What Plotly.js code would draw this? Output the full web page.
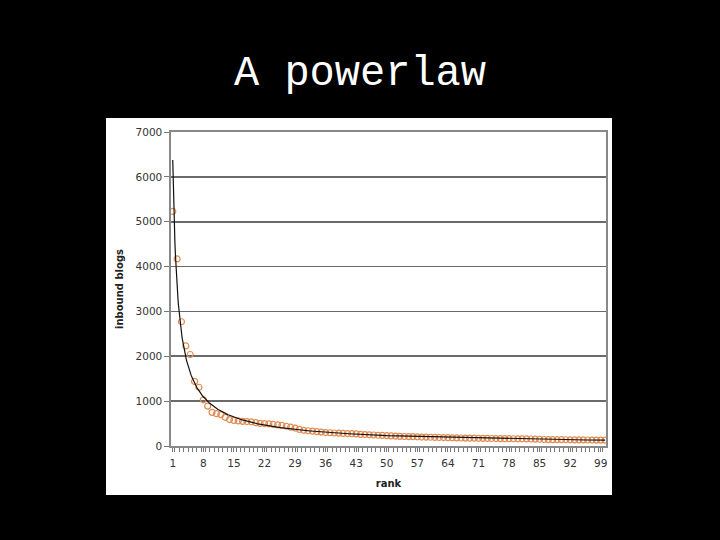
<!DOCTYPE html>
<html>
<head>
<meta charset="utf-8">
<script src="https://cdn.plot.ly/plotly-3.0.1.min.js"></script>
<style>html,body{margin:0;padding:0;background:#000;}#chart{width:720px;height:540px;}</style>
</head>
<body>
<div id="chart"></div>
<script>
// ranks 1..100
var ranks = [];
for (var i = 1; i <= 100; i++) ranks.push(i);

// inbound blogs per rank
var inbound = [
  5230, 4170, 2770, 2230, 2040, 1440, 1310, 1030, 890, 750,
  720, 700, 640, 590, 570, 560, 550, 545, 540, 520,
  505, 500, 495, 480, 470, 460, 440, 420, 400, 370,
  350, 340, 330, 320, 310, 300, 295, 290, 285, 280,
  278, 275, 270, 260, 255, 250, 245, 240, 235, 230,
  225, 220, 215, 212, 210, 208, 205, 200, 198, 195,
  192, 190, 188, 185, 183, 180, 178, 176, 175, 174,
  172, 170, 168, 167, 166, 165, 164, 163, 162, 161,
  160, 158, 156, 154, 150, 145, 143, 142, 141, 140,
  139, 138, 137, 136, 135, 134, 133, 132, 131, 130
];

var xTickVals = [1, 8, 15, 22, 29, 36, 43, 50, 57, 64, 71, 78, 85, 92, 99];
var xTickText = ["1", "8", "15", "22", "29", "36", "43", "50", "57", "64", "71", "78", "85", "92", "99"];
var yTickVals = [0, 1000, 2000, 3000, 4000, 5000, 6000, 7000];

// power-law trendline: least-squares fit in log-log space (as a spreadsheet does)
var n = ranks.length, sx = 0, sy = 0, sxx = 0, sxy = 0;
for (var k = 0; k < n; k++) {
  var lx = Math.log(ranks[k]), ly = Math.log(inbound[k]);
  sx += lx; sy += ly; sxx += lx * lx; sxy += lx * ly;
}
var slope = (n * sxy - sx * sy) / (n * sxx - sx * sx);
var icpt = (sy - slope * sx) / n;
var trendX = [], trendY = [];
for (var t = 1; t <= 100.0001; t += 0.1) {
  trendX.push(t);
  trendY.push(Math.exp(icpt) * Math.pow(t, slope));
}

var traces = [
  {
    x: ranks, y: inbound, type: 'scatter', mode: 'markers',
    marker: {symbol: 'circle-open', size: 6, color: 'rgb(226,138,80)', line: {width: 1.2, color: 'rgb(226,138,80)'}},
    hoverinfo: 'x+y', showlegend: false
  },
  {
    x: trendX, y: trendY, type: 'scatter', mode: 'lines',
    line: {color: '#111', width: 1.2},
    hoverinfo: 'skip', showlegend: false
  }
];

var layout = {
  width: 720, height: 540,
  paper_bgcolor: '#000', plot_bgcolor: '#fff',
  margin: {l: 171, r: 114, t: 132, b: 94},
  showlegend: false,
  title: {
    text: 'A powerlaw', x: 0.5, xref: 'container', xanchor: 'center',
    y: 1 - 70 / 540, yref: 'container', yanchor: 'middle',
    font: {family: '"Liberation Mono", "DejaVu Sans Mono", monospace', size: 42, color: '#fff'}
  },
  shapes: [{
    type: 'rect', xref: 'paper', yref: 'paper', layer: 'below',
    x0: (106 - 171) / 435, x1: (612 - 171) / 435, y0: (446 - 495) / 314, y1: (446 - 118) / 314,
    fillcolor: '#fff', line: {width: 0}
  }],
  xaxis: {
    range: [0.6, 100.2], tickmode: 'array', tickvals: xTickVals, ticktext: xTickText,
    showgrid: false, zeroline: false,
    showline: true, linecolor: '#888', linewidth: 1.6, mirror: true,
    ticks: 'outside', ticklen: 4, tickcolor: '#777',
    ticklabelstandoff: 3,
    minor: {tickmode: 'linear', tick0: 0.5, dtick: 1, ticks: 'outside', ticklen: 4, tickcolor: '#777', showgrid: false},
    tickfont: {family: '"DejaVu Sans", Verdana, sans-serif', size: 10.5, color: '#333'},
    title: {text: '<b>rank</b>', standoff: 12, font: {family: '"DejaVu Sans", Verdana, sans-serif', size: 10, color: '#222'}}
  },
  yaxis: {
    range: [0, 7000], tickmode: 'array', tickvals: yTickVals,
    showgrid: true, gridcolor: '#6a6a6a', gridwidth: 1.6, zeroline: false,
    showline: true, linecolor: '#888', linewidth: 1.6, mirror: true,
    ticks: 'outside', ticklen: 5, tickcolor: '#777',
    tickfont: {family: '"DejaVu Sans", Verdana, sans-serif', size: 10.5, color: '#333'},
    title: {text: '<b>inbound blogs</b>', standoff: 10, font: {family: '"DejaVu Sans", Verdana, sans-serif', size: 10, color: '#222'}}
  }
};

Plotly.newPlot('chart', traces, layout, {displayModeBar: false, staticPlot: true});
</script>
</body>
</html>
